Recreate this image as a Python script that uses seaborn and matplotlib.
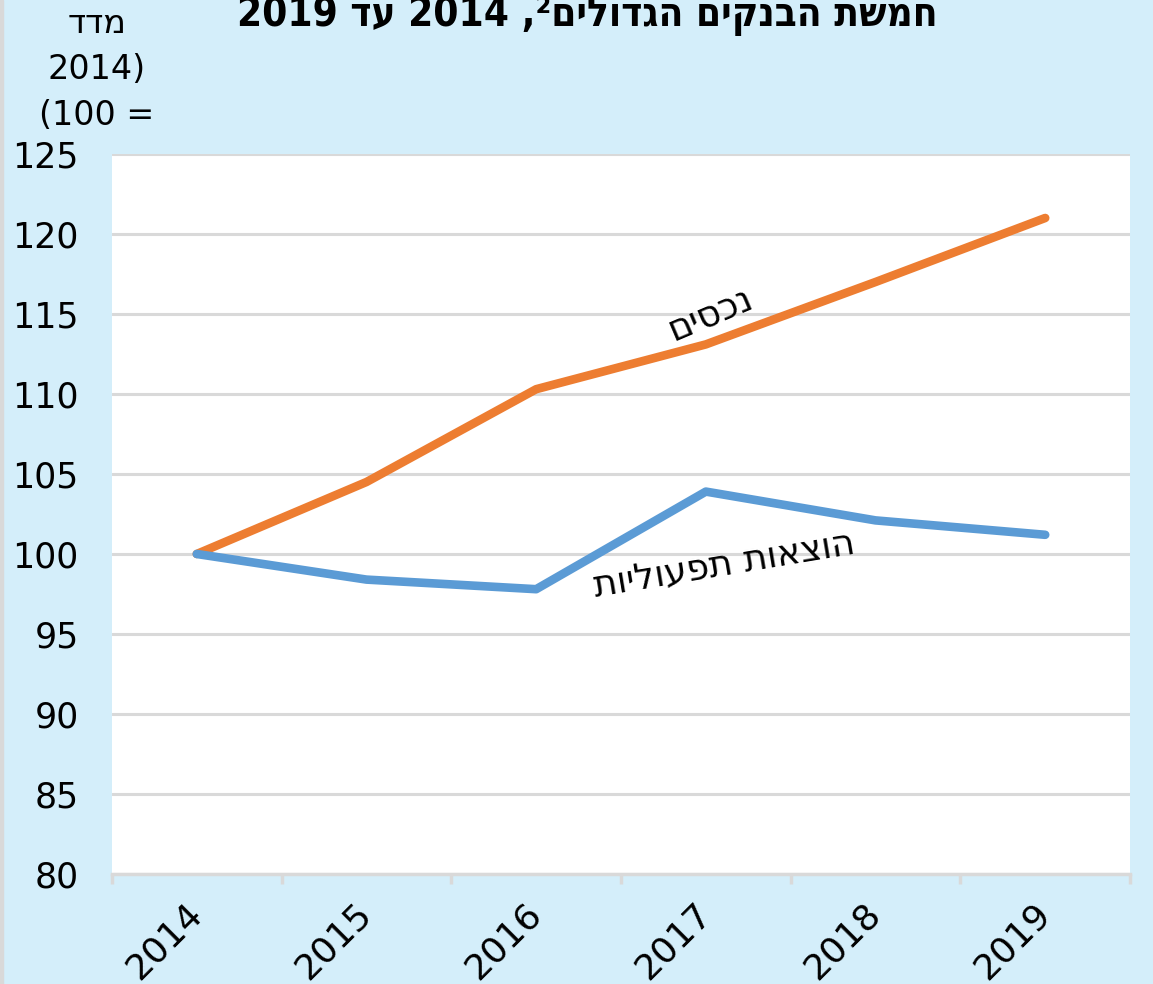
import numpy as np
import pandas as pd
import matplotlib
matplotlib.use("Agg")
import matplotlib.pyplot as plt
import matplotlib.transforms as mtransforms
import seaborn as sns
from matplotlib.ticker import FixedLocator

# נתונים (מדד, 2014 = 100)
years = ["2014", "2015", "2016", "2017", "2018", "2019"]
income = [100, 104.5, 110.3, 113.1, 117.0, 121.0]
expenses = [100, 98.4, 97.8, 103.9, 102.1, 101.2]


def heb(s):
    # matplotlib אינו מטפל בכיווניות - הופכים סדר תווים
    return s[::-1]


BG = "#D4EEFA"
ORANGE = "#ED7D31"
BLUE = "#5B9BD5"
GRID = "#D9D9D9"

sns.set_theme(style="white")
plt.rcParams["font.family"] = ["DejaVu Sans"]
plt.rcParams["text.color"] = "black"

df = pd.DataFrame({"year": years * 2,
                   "value": income + expenses,
                   "series": ["income"] * 6 + ["expenses"] * 6})

fig = plt.figure(figsize=(11.53, 9.84), dpi=100, facecolor=BG)
ax = fig.add_axes([0.0971, 0.1118, 0.883, 0.7317])
ax.set_facecolor("white")

sns.lineplot(data=df, x="year", y="value", hue="series",
             palette={"income": ORANGE, "expenses": BLUE},
             linewidth=6.2, sort=False, legend=False, ax=ax,
             solid_capstyle="round")

ax.set_xlim(-0.5, 5.5)
ax.set_ylim(80, 125)
ax.set_yticks(np.arange(80, 126, 5))
ax.yaxis.grid(True, color=GRID, linewidth=2.2)
ax.set_axisbelow(True)
for side in ["left", "right", "top"]:
    ax.spines[side].set_visible(False)
ax.spines["bottom"].set_color(GRID)
ax.spines["bottom"].set_linewidth(2.5)

ax.tick_params(axis="y", length=0, pad=24, labelsize=25, labelcolor="black")
ax.tick_params(axis="x", which="major", length=0, pad=2, labelsize=26,
               labelcolor="black")
ax.xaxis.set_minor_locator(FixedLocator(np.arange(-0.5, 6, 1)))
ax.tick_params(axis="x", which="minor", bottom=True, length=7, width=2.5,
               color=GRID, direction="out")
shift = mtransforms.ScaledTranslation(-0.12, -0.2, fig.dpi_scale_trans)
for lbl in ax.get_xticklabels():
    lbl.set_rotation(45)
    lbl.set_ha("right")
    lbl.set_va("top")
    lbl.set_rotation_mode("anchor")
    lbl.set_transform(lbl.get_transform() + shift)
ax.set_xlabel("")
ax.set_ylabel("")

# תוויות ערך בקצה
ax.text(5.72, income[-1], "121", fontsize=26, va="center", ha="left",
        clip_on=False)
ax.text(5.72, expenses[-1], "101", fontsize=26, va="center", ha="left",
        clip_on=False)

# שמות הסדרות
ax.text(3.03, 115.0, heb("נכסים"), fontsize=26, rotation=23,
        ha="center", va="center")
ax.text(3.11, 99.3, heb("הוצאות תפעוליות"), fontsize=26, rotation=9.5,
        ha="center", va="center")

# כותרת וכותרת ציר
title = "2019 " + heb("עד") + " 2014 ,\u00b2" + heb("חמשת הבנקים הגדולים")
fig.text(0.509, 0.974, title, fontsize=29, fontweight="bold",
         fontstretch="condensed", ha="center", va="baseline")
fig.text(0.084, 0.993, heb("מדד") + "\n2014)\n(100 =", fontsize=24,
         ha="center", va="top", multialignment="center",
         linespacing=1.5)

fig.patches.append(plt.Rectangle((0, 0), 0.003, 1, transform=fig.transFigure,
                                 color=GRID, zorder=5))

fig.savefig("out.png", dpi=100, facecolor=BG)
